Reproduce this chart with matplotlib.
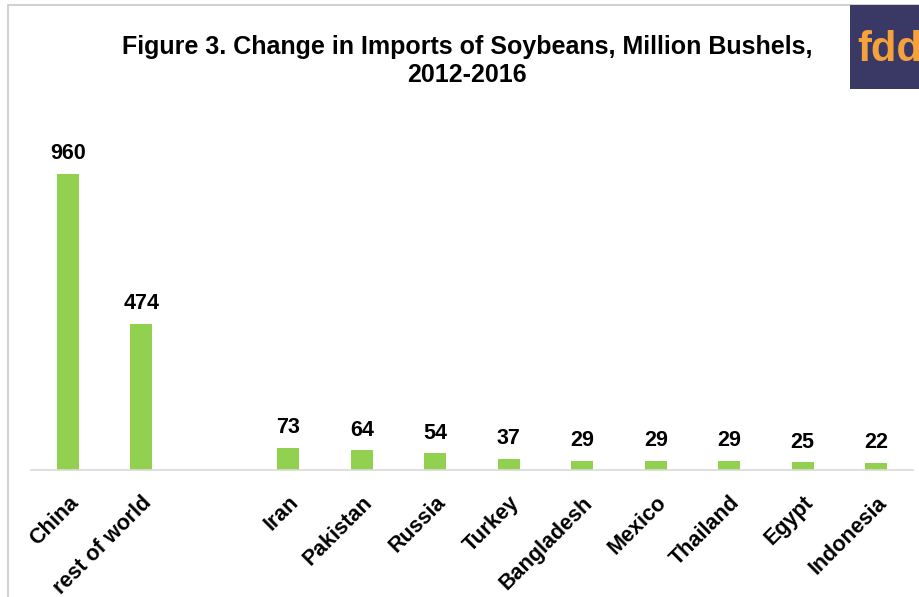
import matplotlib.pyplot as plt
from matplotlib.patches import Rectangle

countries = ["China", "rest of world", "", "Iran", "Pakistan", "Russia", "Turkey",
             "Bangladesh", "Mexico", "Thailand", "Egypt", "Indonesia"]
values = [960, 474, None, 73, 64, 54, 37, 29, 29, 29, 25, 22]

plt.rcParams['font.family'] = ['Liberation Sans', 'DejaVu Sans']

fig = plt.figure(figsize=(9.2, 5.97), dpi=100)
ax = fig.add_axes([31/920, 127/597, 882/920, 339/597])

xs = [i for i, v in enumerate(values) if v is not None]
vals = [v for v in values if v is not None]
bars = ax.bar(xs, vals, width=0.3, color="#92D050")

for x, v in zip(xs, vals):
    ax.annotate(str(v), (x, v), xytext=(0, 7), textcoords="offset points",
                ha="center", va="bottom", fontsize=15.5, fontweight="bold")

ax.set_xlim(-0.5, len(countries) - 0.5)
ax.set_ylim(0, 1100)
ax.set_xticks(range(len(countries)))
ax.set_xticklabels(countries, rotation=45, ha="right", rotation_mode="anchor",
                   fontsize=15.5, fontweight="bold")
ax.tick_params(axis="x", length=0, pad=16)
ax.set_yticks([])
for s in ["top", "right", "left"]:
    ax.spines[s].set_visible(False)
ax.spines["bottom"].set_color("#d9d9d9")
ax.spines["bottom"].set_linewidth(1.2)

fig.text(467/920, 1 - 47/597, "Figure 3. Change in Imports of Soybeans, Million Bushels,",
         ha="center", va="center", fontsize=18, fontweight="bold")
fig.text(467/920, 1 - 75/597, "2012-2016",
         ha="center", va="center", fontsize=18, fontweight="bold")

# outer frame
fig.patches.append(Rectangle((8/920, -0.05), 1.0, 1 - 5/597 + 0.05,
                             transform=fig.transFigure, fill=False,
                             edgecolor="#c8c8c8", linewidth=1.2))

# logo
fig.patches.append(Rectangle((850/920, 1 - 89/597), 80/920, 84/597,
                             transform=fig.transFigure, facecolor="#3a3966",
                             edgecolor="none", zorder=5))
fig.text(857/920, 1 - 50/597, "fdd", ha="left", va="center", fontsize=30,
         fontweight="bold", color="#f5a23d", zorder=6)

fig.savefig("out.png", dpi=100)
